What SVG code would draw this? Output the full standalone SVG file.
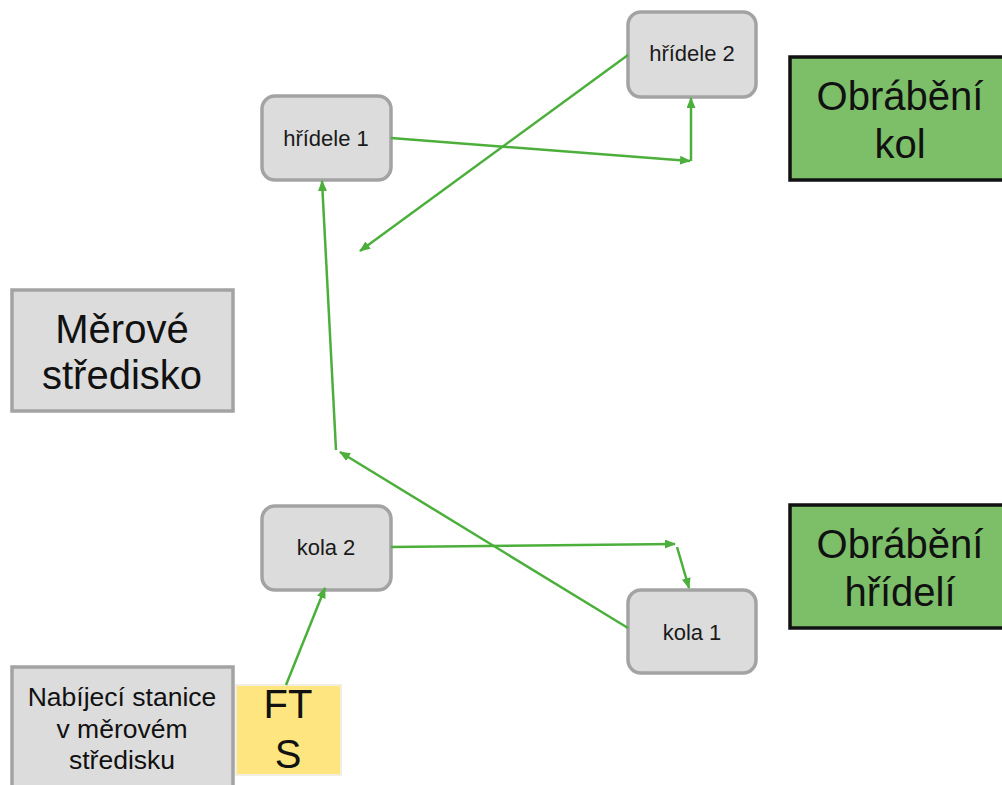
<svg xmlns="http://www.w3.org/2000/svg" width="1002" height="785" viewBox="0 0 1002 785">
<style>
.n{fill:#dcdcdc;stroke:#a3a3a3;stroke-width:3.5}
.g{fill:#7dbf69;stroke:#111;stroke-width:3.5}
.y{fill:#ffe580;stroke:#f2efe0;stroke-width:2}
.s{font-family:"Liberation Sans",Arial,sans-serif;font-size:22px;fill:#1a1a1a;text-anchor:middle}
.b{font-family:"Liberation Sans",Arial,sans-serif;font-size:40px;fill:#111;text-anchor:middle}
.m{font-family:"Liberation Sans",Arial,sans-serif;font-size:26.5px;fill:#111;text-anchor:middle}
.c{fill:none;stroke:#4caf3c;stroke-width:2.5}
</style>
<defs>
<marker id="a" markerWidth="11" markerHeight="9" refX="10" refY="4.5" orient="auto" markerUnits="userSpaceOnUse">
<path d="M0,0 L11,4.5 L0,9 Z" fill="#4caf3c"/>
</marker>
</defs>
<rect width="1002" height="785" fill="#fff"/>
<g id="merove-stredisko"><rect class="n" x="12" y="290" width="221" height="121"/><text class="b" x="122" y="343">Měrové</text><text class="b" x="122" y="389">středisko</text></g>
<g id="obrabeni-kol"><rect class="g" x="790" y="57" width="220" height="123"/><text class="b" x="900" y="110">Obrábění</text><text class="b" x="900" y="158">kol</text></g>
<g id="obrabeni-hrideli"><rect class="g" x="790" y="505" width="220" height="123"/><text class="b" x="900" y="558">Obrábění</text><text class="b" x="900" y="606">hřídelí</text></g>
<g id="nabijeci-stanice"><rect class="n" x="12" y="667" width="221" height="125"/><text class="m" x="122" y="706">Nabíjecí stanice</text><text class="m" x="122" y="738">v měrovém</text><text class="m" x="122" y="769">středisku</text></g>
<g id="fts"><rect class="y" x="236" y="685" width="105" height="90"/><text class="b" x="288" y="718">FT</text><text class="b" x="288" y="768">S</text></g>
<g id="hridele1"><rect class="n" x="262" y="96" width="129" height="84" rx="13"/><text class="s" x="326" y="146">hřídele 1</text></g>
<g id="hridele2"><rect class="n" x="628" y="12" width="128" height="85" rx="13"/><text class="s" x="692" y="61">hřídele 2</text></g>
<g id="kola2"><rect class="n" x="262" y="506" width="129" height="84" rx="13"/><text class="s" x="326" y="555">kola 2</text></g>
<g id="kola1"><rect class="n" x="628" y="590" width="128" height="83" rx="13"/><text class="s" x="692" y="640">kola 1</text></g>
<g id="connectors">
<path class="c" d="M391,138 L690,161" marker-end="url(#a)"/>
<path class="c" d="M691,161 L691,98" marker-end="url(#a)"/>
<path class="c" d="M628,55 L360,251" marker-end="url(#a)"/>
<path class="c" d="M628,628 L340,452" marker-end="url(#a)"/>
<path class="c" d="M336,450 L322,181" marker-end="url(#a)"/>
<path class="c" d="M391,547 L675,544" marker-end="url(#a)"/>
<path class="c" d="M677,547 L689,588" marker-end="url(#a)"/>
<path class="c" d="M286,685 L325,588" marker-end="url(#a)"/>
</g>
</svg>
